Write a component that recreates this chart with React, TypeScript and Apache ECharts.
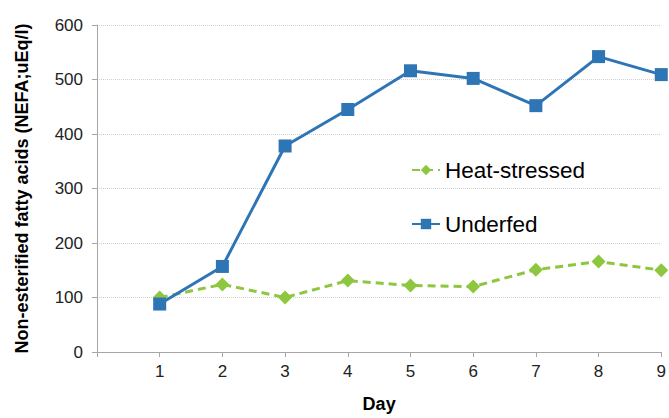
import React, { useEffect, useRef } from "react";
import * as echarts from "echarts";

const days = [1, 2, 3, 4, 5, 6, 7, 8, 9];
const heatStressed = [100, 124, 100, 131, 122, 120, 151, 166, 150];
const underfed = [88, 157, 378, 445, 516, 502, 452, 542, 509];
const yTicks = [0, 100, 200, 300, 400, 500, 600];

export default function App() {
  const ref = useRef<HTMLDivElement>(null);
  useEffect(() => {
    if (!ref.current) return;
    const chart = echarts.init(ref.current, null, { renderer: "svg" });
    const font = "Liberation Sans, Arial, sans-serif";
    chart.setOption({
      animation: false,
      backgroundColor: "#ffffff",
      grid: { left: 97, right: 3, top: 25, bottom: 62, containLabel: false },
      legend: {
        orient: "vertical",
        left: 406,
        top: 153,
        itemGap: 30,
        itemWidth: 28,
        itemHeight: 13,
        textStyle: {
          fontFamily: font,
          fontSize: 22.5,
          lineHeight: 24,
          color: "#000",
        },
        data: ["Heat-stressed", "Underfed"],
      },
      xAxis: {
        type: "value",
        min: 0,
        max: 9,
        interval: 1,
        name: "Day",
        nameLocation: "middle",
        nameGap: 43,
        nameTextStyle: { fontFamily: font, fontSize: 18, fontWeight: "bold", color: "#000" },
        axisLine: { show: true, lineStyle: { color: "#A6A6A6", width: 1 } },
        axisTick: { show: true, length: 5, lineStyle: { color: "#A6A6A6" } },
        axisLabel: {
          fontFamily: font,
          fontSize: 17,
          color: "#222",
          margin: 11,
          formatter: (v: number) => (v === 0 ? "" : String(v)),
        },
        splitLine: { show: false },
      },
      yAxis: {
        type: "value",
        min: yTicks[0],
        max: yTicks[yTicks.length - 1],
        interval: 100,
        name: "Non-esterified fatty acids (NEFA;uEq/l)",
        nameLocation: "middle",
        nameGap: 66,
        nameTextStyle: { fontFamily: font, fontSize: 18, fontWeight: "bold", color: "#000" },
        axisLine: { show: true, lineStyle: { color: "#A6A6A6", width: 1 } },
        axisTick: { show: true, length: 5, lineStyle: { color: "#A6A6A6" } },
        axisLabel: { fontFamily: font, fontSize: 17, color: "#222", margin: 14 },
        splitLine: { show: true, lineStyle: { color: "#D0D0D0", type: "dotted", width: 1 } },
      },
      series: [
        {
          name: "Heat-stressed",
          type: "line",
          data: days.map((d, i) => [d, heatStressed[i]]),
          symbol: "diamond",
          symbolSize: 14,
          itemStyle: { color: "#8DC63F" },
          lineStyle: { color: "#8DC63F", width: 3, type: [8, 5] },
          z: 2,
        },
        {
          name: "Underfed",
          type: "line",
          data: days.map((d, i) => [d, underfed[i]]),
          symbol: "rect",
          symbolSize: 13,
          itemStyle: { color: "#2E75B6" },
          lineStyle: { color: "#2E75B6", width: 3 },
          z: 3,
        },
      ],
    });
    return () => chart.dispose();
  }, []);
  return (
    <div
      ref={ref}
      style={{ position: "fixed", left: 0, top: 0, width: 669, height: 418 }}
    />
  );
}
